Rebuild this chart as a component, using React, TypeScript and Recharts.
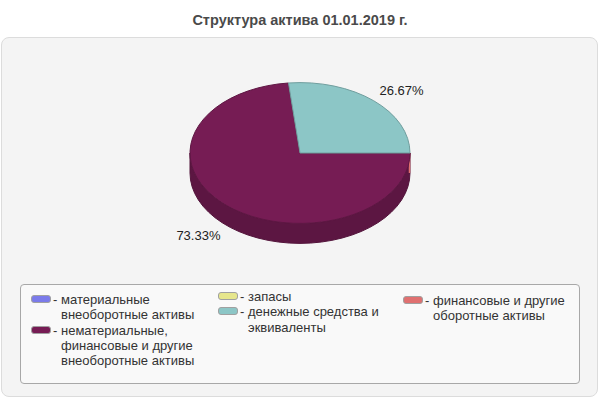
import React from 'react';
import { PieChart, Pie, Cell, Legend } from 'recharts';

const categories = [
  'материальные внеоборотные активы',
  'нематериальные, финансовые и другие внеоборотные активы',
  'запасы',
  'денежные средства и эквиваленты',
  'финансовые и другие оборотные активы',
];
const shares = [0, 73.33, 0, 26.67, 0];

const COLORS = ['#7b7bea', '#761c54', '#e6e68c', '#8cc6c6', '#e07070'];

const chartData = categories.map((name, i) => ({ name, value: shares[i] }));

const TILT = 0.64;
const DEPTH = 20;
const FONT = '"Liberation Sans", Arial, sans-serif';

const darken = (hex: string, k: number) => {
  const n = parseInt(hex.slice(1), 16);
  const ch = (v: number) => Math.round(v * k).toString(16).padStart(2, '0');
  return `#${ch((n >> 16) & 255)}${ch((n >> 8) & 255)}${ch(n & 255)}`;
};

const pt = (cx: number, cy: number, r: number, a: number) => {
  const rad = (a * Math.PI) / 180;
  return [cx + r * Math.cos(rad), cy - r * TILT * Math.sin(rad)];
};

// top face of a slice, squashed into an ellipse
const TopShape = (props: any) => {
  const { cx, cy, outerRadius: r, startAngle, endAngle, fill } = props;
  if (Math.abs(endAngle - startAngle) < 0.01) return <g />;
  const [x1, y1] = pt(cx, cy, r, startAngle);
  const [x2, y2] = pt(cx, cy, r, endAngle);
  const large = Math.abs(endAngle - startAngle) > 180 ? 1 : 0;
  const sweep = endAngle < startAngle ? 1 : 0;
  const d = `M${cx},${cy} L${x1},${y1} A${r},${r * TILT} 0 ${large} ${sweep} ${x2},${y2} Z`;
  return <path d={d} fill={fill} stroke={darken(fill, 0.8)} strokeWidth={1} />;
};

// visible front wall of a slice
const SideShape = (props: any) => {
  const { cx, cy, outerRadius: r, startAngle, endAngle, fill } = props;
  const side = darken(fill, 0.78);
  const s = Math.min(startAngle, endAngle);
  const e = Math.max(startAngle, endAngle);
  if (e - s < 0.01) {
    const rad = (s * Math.PI) / 180;
    if (Math.sin(rad) > 0.001) return <g />;
    const [x, y] = pt(cx, cy, r, s);
    return <line x1={x - 0.5} y1={y} x2={x - 0.5} y2={y + DEPTH} stroke={fill} strokeWidth={1.5} />;
  }
  const paths: string[] = [];
  for (let k = -2; k <= 1; k++) {
    const b1 = Math.max(s, -180 + 360 * k);
    const b2 = Math.min(e, 360 * k);
    if (b2 - b1 < 0.01) continue;
    const [x1, y1] = pt(cx, cy, r, b1);
    const [x2, y2] = pt(cx, cy, r, b2);
    const ry = r * TILT;
    paths.push(
      `M${x1},${y1} A${r},${ry} 0 0 0 ${x2},${y2} L${x2},${y2 + DEPTH} A${r},${ry} 0 0 1 ${x1},${y1 + DEPTH} Z`
    );
  }
  return (
    <g>
      {paths.map((d, i) => (
        <path key={i} d={d} fill={side} stroke={darken(fill, 0.7)} strokeWidth={1} />
      ))}
    </g>
  );
};

const renderLabel = (props: any) => {
  const { cx, cy, outerRadius: r, midAngle, value } = props;
  if (!value) return null;
  const rad = (midAngle * Math.PI) / 180;
  const sin = Math.sin(rad);
  const x = cx + 1.38 * r * Math.cos(rad);
  const y = cy - 1.2 * r * TILT * sin + (sin < 0 ? DEPTH : 0);
  return (
    <text x={x} y={y} textAnchor="middle" dominantBaseline="central" fill="#222" fontSize={13} fontFamily={FONT}>
      {`${value.toFixed(2)}%`}
    </text>
  );
};

const COLUMNS = [
  { items: [0, 1], left: 10, top: 7 },
  { items: [2, 3], left: 197, top: 4 },
  { items: [4], left: 382, top: 8 },
];

const LegendBox = () => (
  <div
    style={{
      position: 'relative',
      width: 560,
      height: 100,
      boxSizing: 'border-box',
      border: '1px solid #a8a8a8',
      borderRadius: 4,
      background: '#f9f9f9',
      fontFamily: FONT,
      fontSize: 13,
      lineHeight: '15.3px',
      color: '#333',
    }}
  >
    {COLUMNS.map((col, c) => (
      <div key={c} style={{ position: 'absolute', left: col.left, top: col.top }}>
        {col.items.map((i) => (
          <div key={i} style={{ display: 'flex', alignItems: 'flex-start' }}>
            <span
              style={{
                width: 20,
                height: 8,
                marginTop: 3,
                boxSizing: 'border-box',
                border: '1px solid #a0a0a0',
                borderRadius: 3,
                background: COLORS[i],
              }}
            />
            <span style={{ width: 8, marginLeft: 2 }}>-</span>
            <span style={{ width: 140 }}>{categories[i]}</span>
          </div>
        ))}
      </div>
    ))}
  </div>
);

const App: React.FC = () => (
  <div style={{ position: 'absolute', left: 0, top: 0, width: 600, height: 400, background: '#fff' }}>
    <div
      style={{
        position: 'absolute',
        left: 0,
        top: 12,
        width: 600,
        textAlign: 'center',
        fontFamily: FONT,
        fontWeight: 'bold',
        fontSize: 14.5,
        color: '#4a4a4a',
      }}
    >
      Структура актива 01.01.2019 г.
    </div>
    <div
      style={{
        position: 'absolute',
        left: 1,
        top: 37,
        width: 597,
        height: 360,
        boxSizing: 'border-box',
        border: '1px solid #dcdcdc',
        borderRadius: 8,
        background: '#f4f4f4',
      }}
    />
    <div style={{ position: 'absolute', left: 0, top: 0 }}>
      <PieChart width={600} height={400} margin={{ top: 0, right: 0, bottom: 0, left: 0 }}>
        <Pie
          data={chartData}
          dataKey="value"
          nameKey="name"
          cx={300}
          cy={153}
          outerRadius={110}
          startAngle={0}
          endAngle={-360}
          stroke="none"
          legendType="none"
          shape={SideShape}
          isAnimationActive={false}
        >
          {chartData.map((_, i) => (
            <Cell key={`side-${i}`} fill={COLORS[i]} />
          ))}
        </Pie>
        <Pie
          data={chartData}
          dataKey="value"
          nameKey="name"
          cx={300}
          cy={153}
          outerRadius={110}
          startAngle={0}
          endAngle={-360}
          stroke="none"
          shape={TopShape}
          label={renderLabel}
          labelLine={false}
          isAnimationActive={false}
        >
          {chartData.map((_, i) => (
            <Cell key={`top-${i}`} fill={COLORS[i]} />
          ))}
        </Pie>
        <Legend
          content={() => <LegendBox />}
          wrapperStyle={{ position: 'absolute', left: 20, top: 284, width: 560, height: 100 }}
        />
      </PieChart>
    </div>
  </div>
);

export default App;
